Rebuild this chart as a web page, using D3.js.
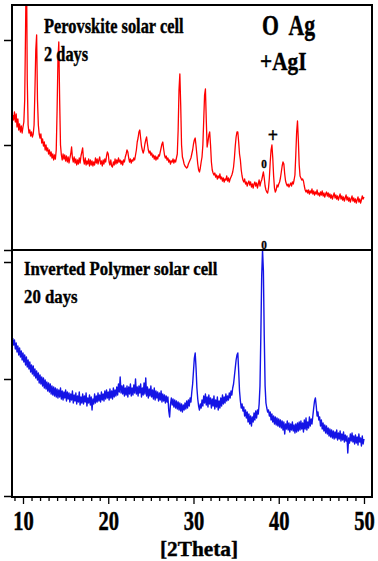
<!DOCTYPE html>
<html><head><meta charset="utf-8">
<script src="https://cdn.jsdelivr.net/npm/d3@7"></script>
<style>html,body{margin:0;padding:0;background:#fff;} svg{display:block;}</style>
</head><body><svg id="c" width="378" height="561"></svg>
<script>
// 2Theta sampling grid of both scans (degrees)
const twoThetaStart = 8.8, twoThetaStep = 0.1;
const xMajorTicks = [10, 20, 30, 40, 50];
const xMinorTicks = [9,11,12,13,14,15,16,17,18,19,21,22,23,24,25,26,27,28,29,31,32,33,34,35,36,37,38,39,41,42,43,44,45,46,47,48,49];
const topYTicks = [0, 105, 210];
const botYTicks = [0, 117, 234];

// Perovskite solar cell, 2 days (intensity, a.u.)
const perovskite = [
135,130,
138,128,136,123,131,120,126,118,124,117,
123,128,150,220,300,170,125,117,120,114,
118,113,116,125,160,200,215,150,125,116,
112,116,107,111,104,108,100,105,99,102,
96,100,94,98,92,96,90,95,91,100,
140,190,208,150,105,95,90,96,91,95,
89,94,88,93,87,92,96,103,92,88,
93,87,91,85,90,86,92,87,94,98,
102,90,86,92,85,89,86,91,84,90,
85,89,84,88,85,92,87,91,86,90,
93,86,89,84,90,86,91,88,94,98,
96,88,85,90,84,83,88,85,91,86,
90,87,92,88,90,86,89,85,90,88,
93,96,100,98,92,88,91,87,90,89,
92,90,95,100,108,112,118,120,112,104,
100,97,100,106,110,113,106,100,97,99,
95,97,93,95,91,94,90,93,91,95,
94,98,102,106,108,101,95,92,94,90,
92,88,90,86,89,88,91,87,90,88,
92,96,120,160,176,145,105,93,90,86,
84,83,82,83,86,88,90,92,96,100,
106,110,112,104,95,86,80,78,82,88,
93,105,130,155,161,130,103,108,115,118,
105,88,80,77,75,77,73,75,71,74,
72,76,71,73,69,72,68,71,70,74,
69,72,68,71,73,75,78,83,92,104,
113,118,118,108,96,90,80,74,70,68,
71,66,68,64,67,69,65,68,63,66,
62,66,68,64,67,62,66,70,64,68,
70,74,78,72,64,60,58,57,62,72,
88,100,105,92,74,62,58,60,65,63,
66,68,72,78,84,88,86,76,69,66,
64,66,63,65,67,64,68,66,70,75,
95,118,129,110,85,74,72,70,71,69,
64,60,58,60,57,60,56,59,57,61,
56,59,55,58,56,60,55,57,54,58,
55,59,54,57,53,56,58,54,57,53,
56,52,55,51,54,57,52,55,51,54,
50,53,56,51,54,50,53,49,52,55,
50,53,49,52,48,51,54,49,52,48,
51,47,50,53,48,51,47,50,54,51,
53];

// Inverted polymer solar cell, 20 days (intensity, a.u.)
const polymer = [
158,151,
156,147,153,144,150,141,148,139,145,136,
143,134,141,131,139,129,136,127,134,124,
131,122,130,120,127,118,125,116,123,113,
121,112,119,110,118,108,116,107,114,105,
113,104,112,102,110,101,109,100,108,99,
107,98,106,99,108,97,105,96,104,98,
106,95,104,97,103,94,102,96,105,93,
101,95,103,92,100,94,104,91,99,93,
102,92,100,94,103,90,98,93,101,91,
99,86,97,92,102,93,100,94,103,95,
101,94,104,96,102,95,105,97,106,98,
104,96,107,98,105,97,108,99,106,100,
109,101,112,104,119,103,110,102,111,100,
108,101,110,99,109,102,112,100,108,101,
111,103,117,102,109,100,110,103,112,99,
108,101,113,102,118,100,109,98,107,100,
110,99,106,97,108,96,105,98,104,95,
103,96,105,94,102,95,101,93,100,94,
99,85,79,92,98,91,97,89,96,88,
95,87,94,86,93,85,92,84,91,86,
93,87,95,88,96,90,98,94,104,112,
125,138,143,128,108,97,90,86,92,88,
96,90,100,93,102,91,99,89,101,92,
98,88,97,90,100,87,96,89,99,86,
95,88,98,90,101,92,99,93,102,95,
100,96,103,98,105,101,108,112,120,128,
136,141,143,125,105,95,88,92,85,89,
80,86,78,84,74,82,72,80,70,79,
74,83,76,85,78,86,82,92,110,160,
220,246,225,160,110,93,88,84,86,80,
84,76,82,74,80,72,79,71,78,70,
77,69,76,68,75,66,74,62,72,67,
75,66,73,64,72,66,74,65,71,63,
72,64,73,65,74,66,75,67,73,64,
76,67,78,66,74,68,79,70,77,72,
80,88,95,98,90,80,84,76,79,70,
76,67,73,65,71,63,70,62,68,60,
67,59,66,58,65,57,64,58,66,56,
63,57,65,55,62,56,64,54,61,55,
60,43,58,53,62,55,63,54,60,52,
61,53,59,51,62,54,58,50,60,52,
57];

const svg = d3.select("#c");
const L = 12, R = 372, T = 5, M = 250, B = 497;
const x = d3.scaleLinear().domain([8.71, 50.94]).range([L, R]);
const yTop = d3.scaleLinear().domain([0, 245]).range([M, T]);
const yBot = d3.scaleLinear().domain([0, 246]).range([496, M]);
const serif = "'Liberation Serif','Times New Roman',serif";

const defs = svg.append("defs");
defs.append("clipPath").attr("id","clipTop").append("rect").attr("x",L).attr("y",T).attr("width",R-L).attr("height",M-T);
defs.append("clipPath").attr("id","clipBot").append("rect").attr("x",L).attr("y",M).attr("width",R-L).attr("height",B-M);

const tt = i => twoThetaStart + i * twoThetaStep;
const lineTop = d3.line().x((d,i)=>x(tt(i))).y(d=>yTop(d));
const lineBot = d3.line().x((d,i)=>x(tt(i))).y(d=>yBot(d));

svg.append("path").attr("d", lineTop(perovskite)).attr("fill","none")
  .attr("stroke","#ff0000").attr("stroke-width",1.3).attr("stroke-linejoin","round").attr("clip-path","url(#clipTop)");
svg.append("path").attr("d", lineBot(polymer)).attr("fill","none")
  .attr("stroke","#1414e6").attr("stroke-width",1.4).attr("stroke-linejoin","round").attr("clip-path","url(#clipBot)");

// frame
svg.append("rect").attr("x",L).attr("y",T).attr("width",R-L).attr("height",B-T)
  .attr("fill","none").attr("stroke","#000").attr("stroke-width",2);
svg.append("line").attr("x1",L).attr("x2",R).attr("y1",M).attr("y2",M).attr("stroke","#000").attr("stroke-width",2);

// y axes (unlabelled ticks)
const ay1 = svg.append("g").attr("transform",`translate(${L},0)`)
  .call(d3.axisLeft(yTop).tickValues(topYTicks).tickSize(8).tickFormat(""));
const ay2 = svg.append("g").attr("transform",`translate(${L},0)`)
  .call(d3.axisLeft(yBot).tickValues(botYTicks).tickSize(8).tickFormat(""));
[ay1, ay2].forEach(g => { g.select(".domain").remove(); g.selectAll("line").attr("stroke","#000").attr("stroke-width",1.5); });

// x axis
const axMinor = svg.append("g").attr("transform",`translate(0,${B})`)
  .call(d3.axisBottom(x).tickValues(xMinorTicks).tickSize(4).tickFormat(""));
const axMajor = svg.append("g").attr("transform",`translate(0,${B})`)
  .call(d3.axisBottom(x).tickValues(xMajorTicks).tickSize(7).tickFormat(d3.format("d")));
[axMinor, axMajor].forEach(g => { g.select(".domain").remove(); g.selectAll("line").attr("stroke","#000").attr("stroke-width",1.3); });
axMajor.selectAll("text").attr("y",null).attr("dy",null)
  .attr("transform","translate(0,33) scale(0.76,1)")
  .attr("font-family",serif).attr("font-weight","bold").attr("font-size",27).attr("fill","#000")
  .attr("stroke","#000").attr("stroke-width",0.5);

function label(txt, px, py, size, sx, anchor) {
  svg.append("text").attr("transform",`translate(${px},${py}) scale(${sx},1)`)
    .attr("font-family",serif).attr("font-weight","bold").attr("font-size",size)
    .attr("text-anchor",anchor||"start").attr("fill","#000")
    .attr("stroke","#000").attr("stroke-width",0.4)
    .style("white-space","pre").text(txt);
}
label("Perovskite solar cell", 44, 33, 20.5, 0.8);
label("2 days", 44, 61, 20.5, 0.8);
label("O  Ag", 262, 35, 29, 0.75);
label("+AgI", 260, 70, 26, 0.82);
label("+", 273, 141.5, 20, 0.9, "middle");
label("o", 264, 168, 16, 0.7, "middle");
label("o", 264, 249, 16, 0.7, "middle");
label("Inverted Polymer solar cell", 24, 275, 19.5, 0.86);
label("20 days", 24, 303, 19.5, 0.86);
label("[2Theta]", 199, 556, 22, 0.97, "middle");
</script></body></html>
